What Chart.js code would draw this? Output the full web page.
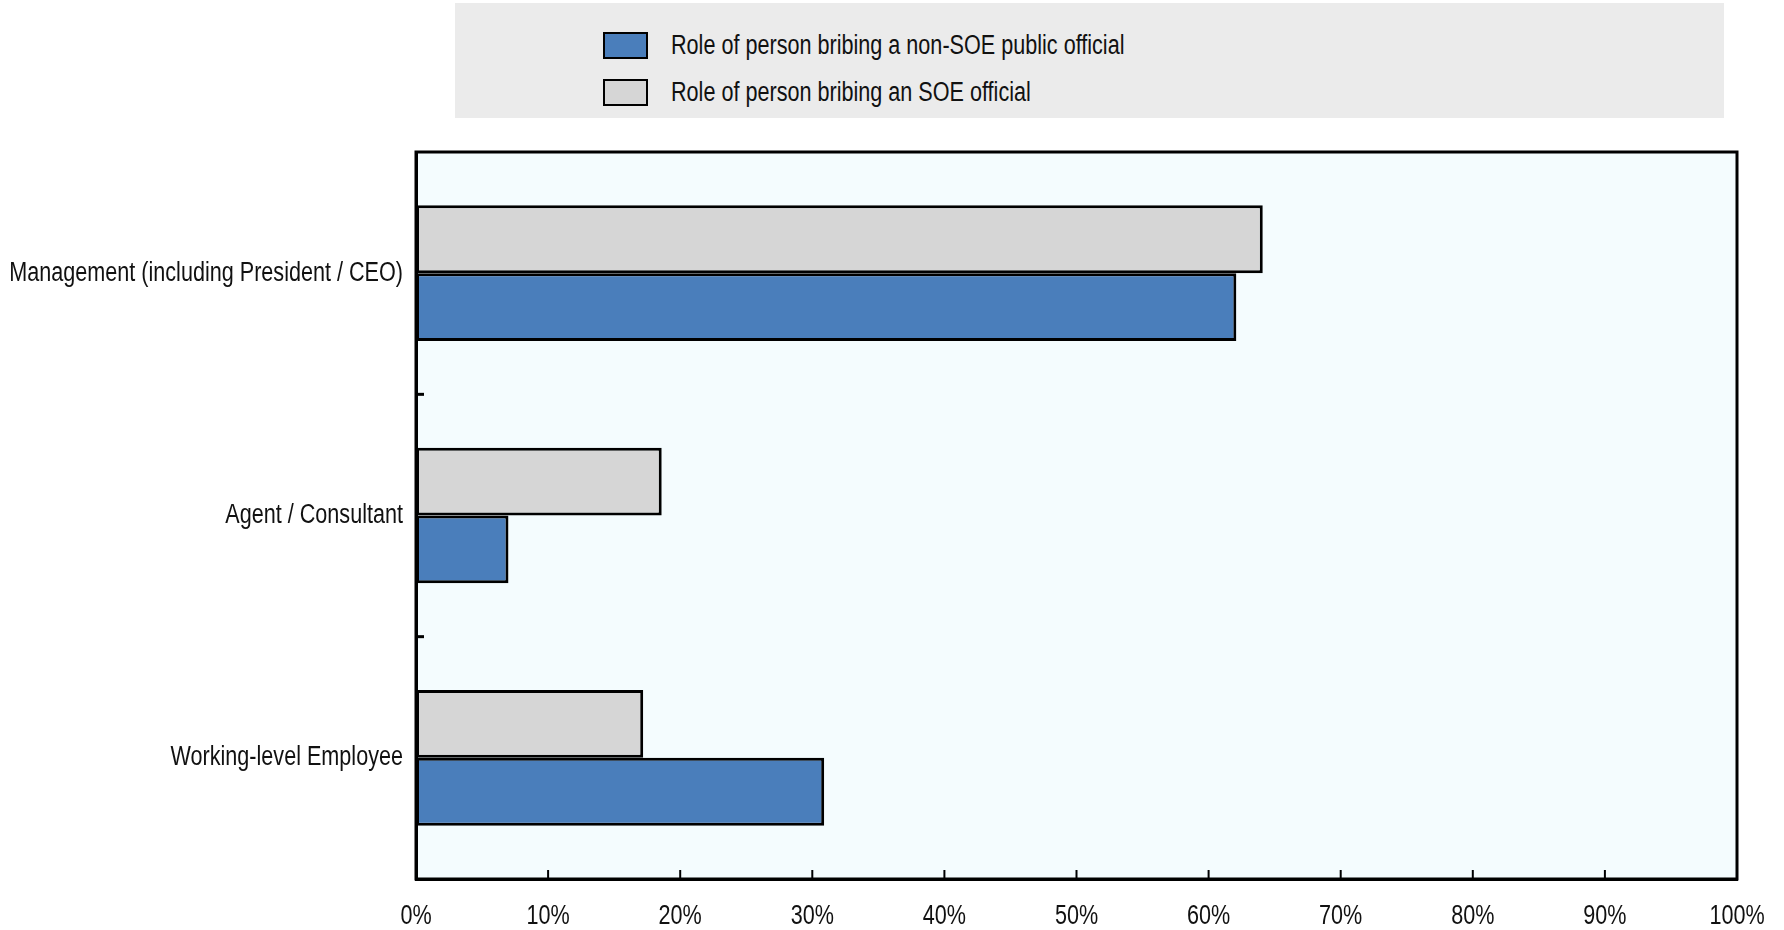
<!DOCTYPE html>
<html>
<head>
<meta charset="utf-8">
<script src="https://cdn.jsdelivr.net/npm/chart.js@4.4.1/dist/chart.umd.min.js"></script>
<style>
    html, body { margin: 0; padding: 0; background: #ffffff; }
    #wrap { position: relative; width: 1784px; height: 930px; }
    #legend {
        position: absolute; left: 455px; top: 3px; width: 1269px; height: 115px;
        background: #ebebeb;
        font-family: "Liberation Sans", Arial, sans-serif;
        font-size: 27px; color: #111;
    }
    .item { position: absolute; left: 148px; height: 30px; display: flex; align-items: center; }
    .swatch { width: 41px; height: 23px; border: 2.5px solid #000; margin-right: 23px; }
    .txt { display: inline-block; transform: scaleX(0.8); transform-origin: left center; white-space: nowrap; }
</style>
</head>
<body>
<div id="wrap">
    <canvas id="chart"></canvas>
    <div id="legend"></div>
</div>
<script>
// values (share of cases, %)
const categories = ['Management (including President / CEO)', 'Agent / Consultant', 'Working-level Employee'];
const soeValues = [64.1, 18.6, 17.2];
const nonSoeValues = [62.1, 7.0, 30.9];
const seriesNames = ['Role of person bribing a non-SOE public official', 'Role of person bribing an SOE official'];
const xTicks = [0, 10, 20, 30, 40, 50, 60, 70, 80, 90, 100];

const BLUE = '#4a7ebb';
const GREY = '#d6d6d6';
const FONT = '"Liberation Sans", Arial, sans-serif';
const SQUEEZE = 0.8; // source uses a condensed face

// legend lives outside the canvas so it can sit in its own grey box
(function () {
    const legend = document.getElementById('legend');
    [[seriesNames[0], BLUE, 27], [seriesNames[1], GREY, 74]].forEach(function (it) {
        const row = document.createElement('div');
        row.className = 'item';
        row.style.top = it[2] + 'px';
        const sw = document.createElement('div');
        sw.className = 'swatch';
        sw.style.background = it[1];
        const tx = document.createElement('span');
        tx.className = 'txt';
        tx.textContent = it[0];
        row.appendChild(sw);
        row.appendChild(tx);
        legend.appendChild(row);
    });
})();

function squeezedText(ctx, text, x, y, align) {
    ctx.save();
    ctx.translate(x, y);
    ctx.scale(SQUEEZE, 1);
    ctx.textAlign = align;
    ctx.fillText(text, 0, 0);
    ctx.restore();
}

// plot background, frame, inward ticks and condensed tick labels
const framePlugin = {
    id: 'frame',
    beforeDraw: function (chart) {
        const a = chart.chartArea, ctx = chart.ctx;
        ctx.save();
        ctx.fillStyle = '#f4fcfe';
        ctx.fillRect(a.left, a.top, a.right - a.left, a.bottom - a.top);
        ctx.restore();
    },
    afterDraw: function (chart) {
        const a = chart.chartArea, ctx = chart.ctx, x = chart.scales.x, y = chart.scales.y;
        ctx.save();
        ctx.strokeStyle = '#000';
        ctx.lineWidth = 3;
        ctx.strokeRect(a.left, a.top, a.right - a.left, a.bottom - a.top);
        ctx.lineWidth = 2;
        xTicks.slice(1, -1).forEach(function (v) {
            const px = x.getPixelForValue(v);
            ctx.beginPath();
            ctx.moveTo(px, a.bottom);
            ctx.lineTo(px, a.bottom - 9);
            ctx.stroke();
        });
        ctx.lineWidth = 3;
        for (let i = 0; i < categories.length - 1; i++) {
            const py = (y.getPixelForValue(i) + y.getPixelForValue(i + 1)) / 2;
            ctx.beginPath();
            ctx.moveTo(a.left, py);
            ctx.lineTo(a.left + 8, py);
            ctx.stroke();
        }

        ctx.fillStyle = '#111';
        ctx.font = '27px ' + FONT;
        ctx.textBaseline = 'middle';
        xTicks.forEach(function (v) {
            squeezedText(ctx, v + '%', x.getPixelForValue(v), a.bottom + 38, 'center');
        });
        y.getLabels().forEach(function (lab, i) {
            squeezedText(ctx, lab, a.left - 13, y.getPixelForValue(i), 'right');
        });
        ctx.restore();
    }
};

new Chart(document.getElementById('chart'), {
    type: 'bar',
    data: {
        labels: categories,
        datasets: [
            { label: seriesNames[1], data: soeValues, backgroundColor: GREY, borderColor: '#000', borderWidth: 3, borderSkipped: false },
            { label: seriesNames[0], data: nonSoeValues, backgroundColor: BLUE, borderColor: '#000', borderWidth: 3, borderSkipped: false }
        ]
    },
    options: {
        indexAxis: 'y',
        responsive: true,
        maintainAspectRatio: false,
        animation: false,
        datasets: { bar: { categoryPercentage: 0.56, barPercentage: 1.0 } },
        layout: { padding: { top: 152, right: 47, left: 0, bottom: 0 } },
        plugins: { legend: { display: false }, tooltip: { enabled: false } },
        scales: {
            x: {
                min: 0, max: 100,
                afterBuildTicks: function (s) { s.ticks = xTicks.map(function (v) { return { value: v }; }); },
                afterFit: function (s) { s.height = 51; },
                ticks: { display: false },
                grid: { display: false },
                border: { display: true, color: '#000', width: 3 }
            },
            y: {
                afterFit: function (s) { s.width = 416; },
                ticks: { display: false },
                grid: { display: false },
                border: { display: true, color: '#000', width: 3 }
            }
        }
    },
    plugins: [framePlugin]
});
</script>
</body>
</html>
